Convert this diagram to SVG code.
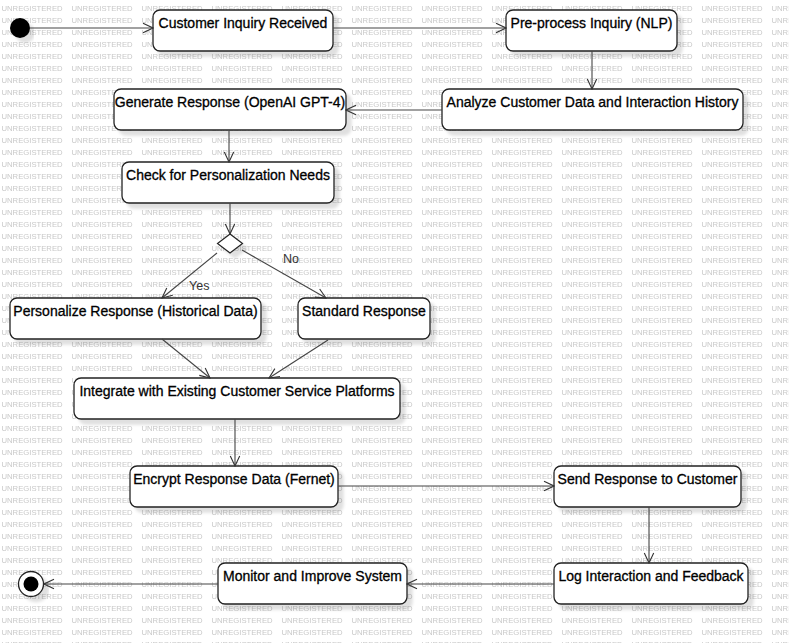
<svg xmlns="http://www.w3.org/2000/svg" width="789" height="643" viewBox="0 0 789 643">
<defs>
<pattern id="wm" patternUnits="userSpaceOnUse" width="70" height="12"><text x="1.5" y="11.3" class="wm">UNREGISTERED</text></pattern>
<marker id="arr" markerUnits="userSpaceOnUse" markerWidth="12" markerHeight="12" refX="11" refY="6" orient="auto" viewBox="0 0 12 12"><path d="M1,1.3 L11,6 L1,10.7" fill="none" stroke="#333" stroke-width="1.1"/></marker>
<filter id="sh" x="-10%" y="-20%" width="130%" height="160%"><feDropShadow dx="5" dy="5" stdDeviation="1.5" flood-color="#000" flood-opacity="0.12"/></filter>
</defs>
<style>
.wm{font-family:"Liberation Sans",Arial,sans-serif;font-size:7.7px;fill:#c8c8c8}
.node rect{fill:#fff;stroke:#222;stroke-width:1.3;filter:url(#sh)}
.node text{font-family:"Liberation Sans",Arial,sans-serif;font-size:14px;fill:#000;stroke:#000;stroke-width:0.3;text-anchor:middle}
#connectors line{stroke:#444;stroke-width:1.1;fill:none;marker-end:url(#arr)}
.lbl{font-family:"Liberation Sans",Arial,sans-serif;font-size:12.5px;fill:#333}
</style>
<rect width="789" height="643" fill="#fff"/>
<rect width="789" height="643" fill="url(#wm)"/>

<g id="initial"><circle cx="20" cy="28" r="10" fill="#000" filter="url(#sh)"/></g>
<g id="final"><circle cx="31" cy="584" r="12.5" fill="#fff" stroke="#222" stroke-width="1.3" filter="url(#sh)"/><circle cx="31" cy="584" r="7.5" fill="#000"/></g>

<g id="n1" class="node"><rect x="153" y="10" width="180" height="41" rx="7"/><text x="243" y="27.5">Customer Inquiry Received</text></g>
<g id="n2" class="node"><rect x="506" y="10" width="171" height="41" rx="7"/><text x="591.5" y="27.5">Pre-process Inquiry (NLP)</text></g>
<g id="n3" class="node"><rect x="442" y="89" width="301" height="41" rx="7"/><text x="592.5" y="107">Analyze Customer Data and Interaction History</text></g>
<g id="n4" class="node"><rect x="114" y="89" width="232" height="41" rx="7"/><text x="230" y="107">Generate Response (OpenAI GPT-4)</text></g>
<g id="n5" class="node"><rect x="122" y="162" width="212" height="41" rx="7"/><text x="228" y="180">Check for Personalization Needs</text></g>
<g id="decision"><polygon points="230,234 242.5,243.5 230,253 217.5,243.5" fill="#fff" stroke="#222" stroke-width="1.2" filter="url(#sh)"/></g>
<g id="n6" class="node"><rect x="10" y="298" width="251" height="41" rx="7"/><text x="135.5" y="316">Personalize Response (Historical Data)</text></g>
<g id="n7" class="node"><rect x="298" y="298" width="132" height="41" rx="7"/><text x="364" y="316">Standard Response</text></g>
<g id="n8" class="node"><rect x="74" y="378" width="326" height="41" rx="7"/><text x="237" y="396">Integrate with Existing Customer Service Platforms</text></g>
<g id="n9" class="node"><rect x="130" y="466" width="208" height="41" rx="7"/><text x="234" y="484">Encrypt Response Data (Fernet)</text></g>
<g id="n10" class="node"><rect x="554" y="466" width="187" height="41" rx="7"/><text x="647.5" y="484">Send Response to Customer</text></g>
<g id="n11" class="node"><rect x="554" y="563" width="194" height="41" rx="7"/><text x="651" y="581">Log Interaction and Feedback</text></g>
<g id="n12" class="node"><rect x="218" y="563" width="189" height="41" rx="7"/><text x="312.5" y="581">Monitor and Improve System</text></g>

<g id="connectors">
<line x1="30" y1="28" x2="153" y2="28"/>
<line x1="333" y1="28" x2="506" y2="28"/>
<line x1="592" y1="51" x2="592" y2="89"/>
<line x1="442" y1="110" x2="346" y2="110"/>
<line x1="229" y1="131" x2="229" y2="162"/>
<line x1="230" y1="203" x2="230" y2="234"/>
<line x1="217" y1="253" x2="162" y2="298"/>
<line x1="242" y1="250" x2="326" y2="298"/>
<line x1="162" y1="339" x2="210" y2="378"/>
<line x1="328" y1="340" x2="269" y2="378"/>
<line x1="235" y1="419" x2="235" y2="466"/>
<line x1="338" y1="486" x2="554" y2="486"/>
<line x1="649" y1="507" x2="649" y2="563"/>
<line x1="554" y1="584" x2="407" y2="584"/>
<line x1="218" y1="584" x2="44" y2="584"/>
<text class="lbl" x="189" y="290">Yes</text>
<text class="lbl" x="283" y="263">No</text>
</g>
</svg>
